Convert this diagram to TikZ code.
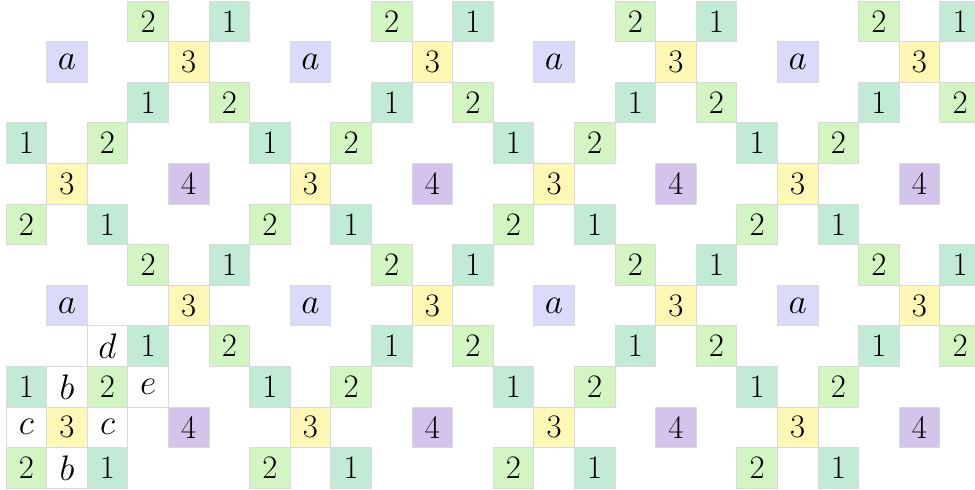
\documentclass[tikz,border=0pt]{standalone}
\definecolor{cone}{RGB}{194,235,214}
\definecolor{ctwo}{RGB}{210,245,193}
\definecolor{cthree}{RGB}{255,248,180}
\definecolor{cfour}{RGB}{212,196,236}
\definecolor{ca}{RGB}{218,218,250}
\definecolor{cellline}{RGB}{218,218,218}
\begin{document}
\begin{tikzpicture}[x=1cm,y=-1cm,
  cell/.style={draw=cellline, line width=0.6pt, minimum size=1cm, inner sep=0pt,
    font=\fontsize{23}{28}\selectfont, anchor=center},
  blank/.style={cell, fill=white}]
\useasboundingbox (-0.148,-0.025) rectangle (23.867,12.044);
\foreach \bx in {0,...,3}{
  \foreach \by in {0,1}{
    \foreach \r/\c/\col/\t in {0/3/ctwo/2, 0/5/cone/1, 1/1/ca/$a$, 1/4/cthree/3,
        2/3/cone/1, 2/5/ctwo/2, 3/0/cone/1, 3/2/ctwo/2, 4/1/cthree/3, 4/4/cfour/4,
        5/0/ctwo/2, 5/2/cone/1}{
      \pgfmathtruncatemacro\R{6*\by+\r}
      \pgfmathtruncatemacro\C{6*\bx+\c}
      \node[cell, fill=\col] (n\R-\C) at (\C+0.5,\R+0.5) {\t};
    }
  }
}
\node[blank] (d8-2) at (2.5,8.5) {$d$};
\node[blank] (b9-1) at (1.5,9.5) {$b$};
\node[blank] (e9-3) at (3.5,9.5) {$e$};
\node[blank] (c10-0) at (0.5,10.5) {$c$};
\node[blank] (c10-2) at (2.5,10.5) {$c$};
\node[blank] (b11-1) at (1.5,11.5) {$b$};
\end{tikzpicture}
\end{document}
